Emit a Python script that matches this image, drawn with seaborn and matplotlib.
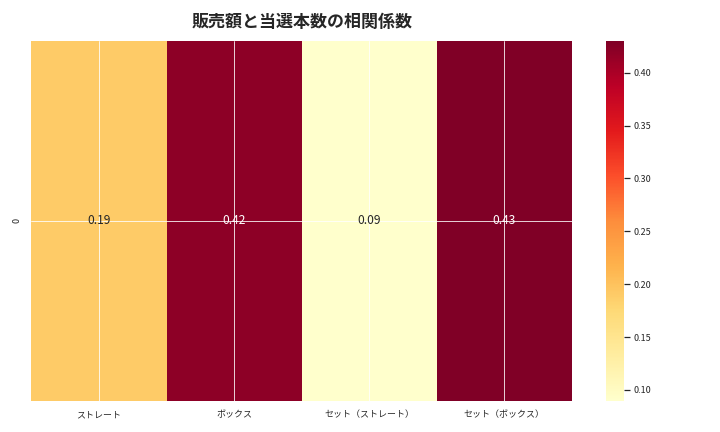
import pandas as pd
import matplotlib.pyplot as plt
import seaborn as sns

sns.set_theme(style="whitegrid")
plt.rcParams['font.family'] = ['Noto Sans CJK JP', 'DejaVu Sans']

labels = ['ストレート', 'ボックス', 'セット（ストレート）', 'セット（ボックス）']
corr = [0.19, 0.42, 0.09, 0.43]

df = pd.DataFrame([corr], columns=labels)

fig, ax = plt.subplots(figsize=(10, 6), dpi=72)
sns.heatmap(df, annot=True, fmt='.2f', cmap='YlOrRd', ax=ax,
            annot_kws={'fontsize': 12})
ax.set_axisbelow(False)
ax.grid(True, color='white', linewidth=0.8)
ax.set_title('販売額と当選本数の相関係数', fontsize=17, fontweight='bold', pad=14)
ax.tick_params(labelsize=9)
ax.figure.axes[-1].tick_params(labelsize=9)
plt.tight_layout()
plt.savefig('out.png')
